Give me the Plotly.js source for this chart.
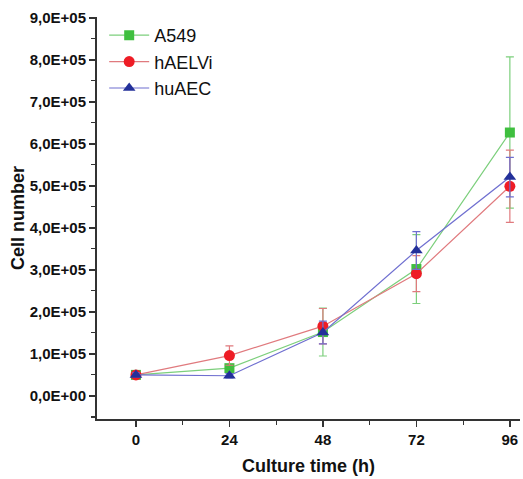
<!DOCTYPE html>
<html><head><meta charset="utf-8">
<script src="https://cdn.plot.ly/plotly-3.0.1.min.js"></script>
<style>body{margin:0;background:#fff}#c{width:523px;height:479px}</style>
</head><body><div id="c"></div>
<script>
const hours = [0, 24, 48, 72, 96];
const a549 = [50000, 66000, 152000, 302000, 627000];
const a549Err = [6000, 5000, 57000, 82000, 180000];
const haelvi = [50000, 96000, 166000, 291000, 499000];
const haelviErr = [5000, 23000, 42000, 43000, 86000];
const huaec = [50000, 48000, 151000, 346000, 521000];
const huaecErr = [5000, 5000, 27000, 45000, 47000];
const yTickVals = [0, 100000, 200000, 300000, 400000, 500000, 600000, 700000, 800000, 900000];
const yTickText = ["0,0E+00","1,0E+05","2,0E+05","3,0E+05","4,0E+05","5,0E+05","6,0E+05","7,0E+05","8,0E+05","9,0E+05"];
const xTickVals = [0, 24, 48, 72, 96];

function series(name, y, err, lineColor, markerColor, symbol, size) {
  return {
    x: hours, y: y, name: name, type: 'scatter', mode: 'lines+markers',
    line: {color: lineColor, width: 1.2},
    marker: {color: markerColor, symbol: symbol, size: size},
    error_y: {type: 'data', array: err, visible: true, color: lineColor, thickness: 1.2, width: 4}
  };
}
const traces = [
  series('A549', a549, a549Err, '#7ccf7c', '#3fbf3f', 'square', 10),
  series('hAELVi', haelvi, haelviErr, '#e07a7e', '#ee1c25', 'circle', 11),
  series('huAEC', huaec, huaecErr, '#6f6fd0', '#23309a', 'triangle-up', 11)
];
const bold = s => '<b>' + s + '</b>';
const tf = {size: 15, family: 'Liberation Sans, Arial', color: '#111'};
const layout = {
  width: 523, height: 479,
  margin: {l: 97, r: 3, t: 17, b: 60},
  paper_bgcolor: '#fff', plot_bgcolor: '#fff',
  font: {family: 'Liberation Sans, Arial, sans-serif', color: '#111'},
  showlegend: true,
  legend: {x: 0.017, y: 1.0, xanchor: 'left', yanchor: 'top', bgcolor: 'rgba(0,0,0,0)',
           font: {size: 18, color: '#111'}, tracegroupgap: 0, itemwidth: 40},
  xaxis: {
    range: [-10, 98.6], tickvals: xTickVals, ticktext: xTickVals.map(v => bold(String(v))),
    ticks: 'outside', ticklen: 6, tickwidth: 1.5, tickcolor: '#333',
    minor: {dtick: 12, tick0: 0, ticks: 'outside', ticklen: 4, tickwidth: 1.2, tickcolor: '#333'},
    showline: true, linecolor: '#333', linewidth: 2, showgrid: false, zeroline: false,
    tickfont: tf,
    title: {text: bold('Culture time (h)'), font: {size: 18, color: '#111'}, standoff: 12}
  },
  yaxis: {
    range: [-55000, 902000], tickvals: yTickVals, ticktext: yTickText.map(bold),
    ticks: 'outside', ticklen: 6, tickwidth: 1.5, tickcolor: '#333',
    minor: {dtick: 50000, tick0: 0, ticks: 'outside', ticklen: 4, tickwidth: 1.2, tickcolor: '#333'},
    showline: true, linecolor: '#333', linewidth: 2, showgrid: false, zeroline: false,
    tickfont: tf,
    title: {text: bold('Cell number'), font: {size: 18, color: '#111'}, standoff: 0}
  }
};
Plotly.newPlot('c', traces, layout, {displayModeBar: false, staticPlot: true});
</script></body></html>
